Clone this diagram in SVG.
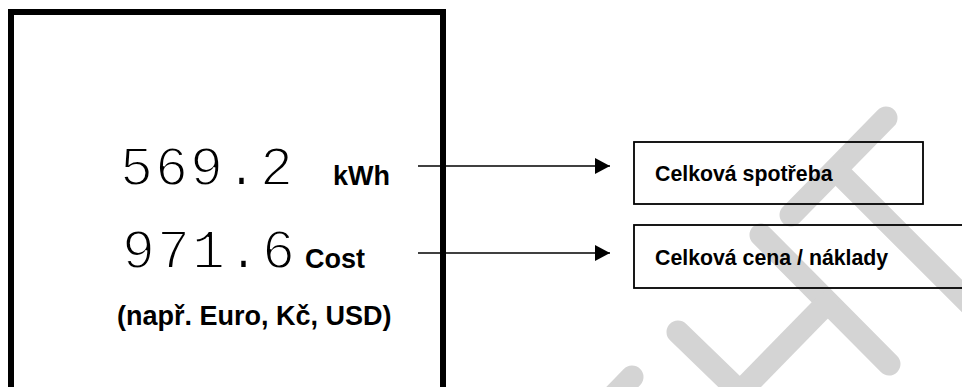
<svg xmlns="http://www.w3.org/2000/svg" width="962" height="387" viewBox="0 0 962 387">
  <defs>
    <style>
      .wm { stroke: #d4d4d4; stroke-width: 23; stroke-linecap: round; fill: none; }
      .num { font-family: "Liberation Mono", "Courier New", monospace; font-size: 55px; fill: #000; letter-spacing: 2px; stroke: #fff; stroke-width: 1.8px; }
      .unit { font-family: "Liberation Sans", Arial, sans-serif; font-weight: bold; font-size: 27px; fill: #000; }
      .lbl { font-family: "Liberation Sans", Arial, sans-serif; font-weight: bold; font-size: 21.3px; fill: #000; }
      .box { fill: none; stroke: #000; stroke-width: 1.8; }
      .conn { stroke: #000; stroke-width: 1.6; fill: none; }
    </style>
    <marker id="arrow" viewBox="0 0 15 16" refX="15" refY="8" markerWidth="15" markerHeight="16" markerUnits="userSpaceOnUse" orient="auto">
      <path d="M0,0 L15,8 L0,16 Z" fill="#000"/>
    </marker>
  </defs>
  <rect width="962" height="387" fill="#fff"/>

  <g id="watermark">
    <line class="wm" x1="791" y1="215" x2="886" y2="118"/>
    <line class="wm" x1="836" y1="170" x2="1010" y2="344"/>
    <line class="wm" x1="761" y1="235" x2="889" y2="364"/>
    <line class="wm" x1="678" y1="332" x2="740" y2="392"/>
    <line class="wm" x1="740" y1="392" x2="827" y2="303"/>
    <line class="wm" x1="632" y1="377" x2="600" y2="410"/>
  </g>

  <g id="meter">
    <rect x="11" y="12" width="432" height="400" fill="none" stroke="#000" stroke-width="6"/>
    <text class="num" x="120" y="185">569.2</text>
    <text class="unit" x="333" y="185">kWh</text>
    <text class="num" x="122" y="268">971.6</text>
    <text class="unit" x="305" y="268">Cost</text>
    <text class="unit" x="117" y="325">(např. Euro, Kč, USD)</text>
  </g>

  <g id="connectors">
    <line class="conn" x1="418" y1="166" x2="610" y2="166" marker-end="url(#arrow)"/>
    <line class="conn" x1="418" y1="253" x2="610" y2="253" marker-end="url(#arrow)"/>
  </g>

  <g id="node-spotreba">
    <rect class="box" x="634" y="142" width="289" height="62"/>
    <text class="lbl" x="655" y="181">Celková spotřeba</text>
  </g>

  <g id="node-cena">
    <rect class="box" x="634" y="225" width="340" height="63"/>
    <text class="lbl" x="655" y="265">Celková cena / náklady</text>
  </g>
</svg>
